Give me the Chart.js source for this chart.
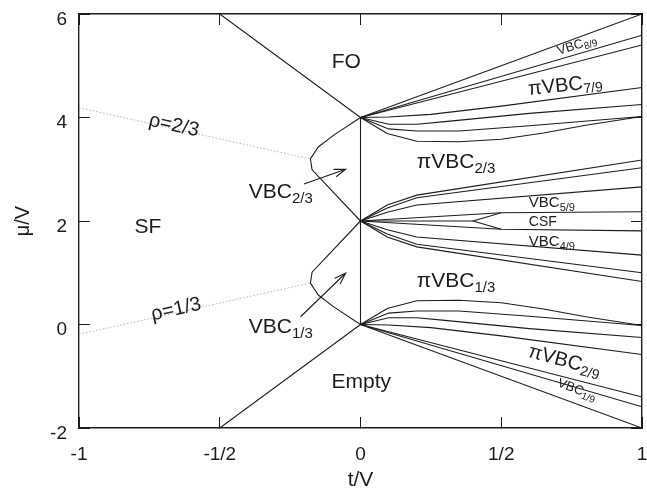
<!DOCTYPE html>
<html>
<head>
<meta charset="utf-8">
<script src="https://cdn.jsdelivr.net/npm/chart.js@4.4.1/dist/chart.umd.min.js"></script>
<style>
  html, body { margin: 0; padding: 0; background: #fff; }
  #wrap { width: 647px; height: 491px; }
</style>
</head>
<body>
<div id="wrap"><canvas id="c" width="647" height="491"></canvas></div>
<script>
// axis ticks
const xTicks = [-1, -0.5, 0, 0.5, 1];
const xTickLabels = ['-1', '-1/2', '0', '1/2', '1'];
const yTicks = [-2, 0, 2, 4, 6];
const tRange = [-1, 1];
const muRange = [-2, 6];

// boundaries on the t < 0 side, points are [t/V, mu/V]
const foBoundary = [[-0.5, 6], [0, 4]];
const emptyBoundary = [[-0.5, -2], [0, 0]];
const classicalLine = [[0, 0], [0, 4]];
const lobeTwoThirds = [[0, 4], [-0.095, 3.66], [-0.15, 3.43], [-0.178, 3.2], [-0.172, 2.99], [0, 2]];
const lobeOneThird = [[0, 2], [-0.172, 1.01], [-0.178, 0.8], [-0.15, 0.57], [-0.095, 0.34], [0, 0]];
const densityTwoThirds = [[-1, 4.19], [-0.18, 3.2]];
const densityOneThird = [[-1, -0.19], [-0.18, 0.8]];

// boundaries fanning out of (0, 4)
const fanTop1 = [[0, 4], [1, 6]];
const fanTop2 = [[0, 4], [1, 5.59]];
const fanTop3 = [[0, 4], [1, 5.40]];
const fanTop4 = [[0, 4], [0.1, 4.01], [0.25, 4.06], [0.5, 4.22], [1, 4.58]];
const fanTop5 = [[0, 4], [0.1, 3.87], [0.2, 3.87], [0.3, 3.92], [0.6, 4.08], [1, 4.25]];
const fanTop6 = [[0, 4], [0.1, 3.78], [0.2, 3.74], [0.35, 3.74], [0.6, 3.84], [1, 4.02]];
const fanTop7 = [[0, 4], [0.095, 3.69], [0.2, 3.54], [0.35, 3.53], [0.5, 3.58], [0.65, 3.7], [0.8, 3.85], [1, 4.02]];

// boundaries fanning out of (0, 2)
const fanMid1 = [[0, 2], [0.095, 2.31], [0.2, 2.5], [1, 3.18]];
const fanMid2 = [[0, 2], [0.095, 2.25], [0.2, 2.45], [1, 3.03]];
const fanMid3 = [[0, 2], [0.095, 2.17], [0.2, 2.31], [1, 2.66]];
const fanMid4 = [[0, 2], [0.5, 2.16], [1, 2.18]];
const fanMid5 = [[0, 2], [0.4, 2.0]];
const csfWedge = [[0.5, 2.16], [0.4, 2.0], [0.5, 1.84]];
const fanMid6 = [[0, 2], [0.5, 1.84], [1, 1.81]];
const fanMid7 = [[0, 2], [0.095, 1.83], [0.2, 1.69], [1, 1.34]];
const fanMid8 = [[0, 2], [0.095, 1.75], [0.2, 1.55], [1, 1.0]];
const fanMid9 = [[0, 2], [0.095, 1.69], [0.2, 1.5], [1, 0.83]];

// boundaries fanning out of (0, 0)
const fanLow1 = [[0, 0], [1, -2]];
const fanLow2 = [[0, 0], [1, -1.59]];
const fanLow3 = [[0, 0], [1, -1.40]];
const fanLow4 = [[0, 0], [0.1, -0.01], [0.25, -0.06], [0.5, -0.22], [1, -0.58]];
const fanLow5 = [[0, 0], [0.1, 0.13], [0.2, 0.13], [0.3, 0.08], [0.6, -0.08], [1, -0.25]];
const fanLow6 = [[0, 0], [0.1, 0.22], [0.2, 0.26], [0.35, 0.26], [0.6, 0.16], [1, -0.02]];
const fanLow7 = [[0, 0], [0.095, 0.31], [0.2, 0.46], [0.35, 0.47], [0.5, 0.42], [0.65, 0.3], [0.8, 0.15], [1, -0.02]];

// arrows pointing into the VBC lobes: [tail, head]
const arrowTwoThirds = [[-0.201, 2.715], [-0.053, 3.0]];
const arrowOneThird = [[-0.213, 0.15], [-0.053, 0.99]];

const FONT = '"Liberation Sans", Arial, Helvetica, sans-serif';
const INK = '#1c1c1c';
const TICK_IN = -11;   // negative tick length puts the marks inside the frame

// phase names: anchor in data units, text pieces [text, px size, baseline shift]
const phaseLabels = [
  { at: [-0.0504, 4.957], align: 'center', parts: [['FO', 21, 0]] },
  { at: [-0.7556, 1.768], align: 'center', parts: [['SF', 21, 0]] },
  { at: [0.003, -1.227], align: 'center', parts: [['Empty', 21, 0]] },
  { at: [-0.3968, 2.444], parts: [['VBC', 21, 0], ['2/3', 15, 5]] },
  { at: [-0.3968, -0.164], parts: [['VBC', 21, 0], ['1/3', 15, 5]] },
  { at: [-0.6615, 3.874], align: 'center', middle: true, rot: 12.4, parts: [['ρ=2/3', 20, 0]] },
  { at: [-0.6561, 0.319], align: 'center', middle: true, rot: -12.7, parts: [['ρ=1/3', 20, 0]] },
  { at: [0.2, 3.018], parts: [['πVBC', 21, 0], ['2/3', 15, 5]] },
  { at: [0.2, 0.730], parts: [['πVBC', 21, 0], ['1/3', 15, 5]] },
  { at: [0.598, 2.276], parts: [['VBC', 15, 0], ['5/9', 11, 4]] },
  { at: [0.598, 1.903], parts: [['CSF', 14, 0]] },
  { at: [0.598, 1.523], parts: [['VBC', 15, 0], ['4/9', 11, 4]] },
  { at: [0.598, 4.435], rot: -6, parts: [['πVBC', 20, 0], ['7/9', 14, 4]] },
  { at: [0.7044, 5.208], rot: -18, parts: [['VBC', 13, 0], ['8/9', 10, 3]] },
  { at: [0.592, -0.622], rot: 15, parts: [['πVBC', 20, 0], ['2/9', 14, 4]] },
  { at: [0.697, -1.188], rot: 21, parts: [['VBC', 13, 0], ['1/9', 10, 3]] }
];

const solidCurves = [
  foBoundary, emptyBoundary, classicalLine, lobeTwoThirds, lobeOneThird,
  fanTop1, fanTop2, fanTop3, fanTop4, fanTop5, fanTop6, fanTop7,
  fanMid1, fanMid2, fanMid3, fanMid4, fanMid5, csfWedge, fanMid6, fanMid7, fanMid8, fanMid9,
  fanLow1, fanLow2, fanLow3, fanLow4, fanLow5, fanLow6, fanLow7,
  arrowTwoThirds, arrowOneThird
];
const dottedCurves = [densityTwoThirds, densityOneThird];

const datasets = [];
dottedCurves.forEach(d => datasets.push({
  data: d, showLine: true, pointRadius: 0, borderColor: '#b5b5b5',
  borderWidth: 1, borderDash: [1.5, 2], tension: 0
}));
solidCurves.forEach(d => datasets.push({
  data: d, showLine: true, pointRadius: 0, borderColor: INK,
  borderWidth: 1.1, tension: 0
}));

function drawArrowHeads(chart) {
  const ctx = chart.ctx;
  const sx = chart.scales.x, sy = chart.scales.y;
  ctx.save();
  ctx.setLineDash([]);
  ctx.strokeStyle = INK;
  ctx.lineWidth = 1.1;
  [arrowTwoThirds, arrowOneThird].forEach(([tail, head]) => {
    const x0 = sx.getPixelForValue(tail[0]), y0 = sy.getPixelForValue(tail[1]);
    const x1 = sx.getPixelForValue(head[0]), y1 = sy.getPixelForValue(head[1]);
    const ang = Math.atan2(y1 - y0, x1 - x0);
    const len = 12, spread = 0.33;
    ctx.beginPath();
    ctx.moveTo(x1 - len * Math.cos(ang - spread), y1 - len * Math.sin(ang - spread));
    ctx.lineTo(x1, y1);
    ctx.lineTo(x1 - len * Math.cos(ang + spread), y1 - len * Math.sin(ang + spread));
    ctx.stroke();
  });
  ctx.restore();
}

function drawPhaseNames(chart) {
  const ctx = chart.ctx;
  const sx = chart.scales.x, sy = chart.scales.y;
  phaseLabels.forEach(lab => {
    ctx.save();
    ctx.translate(sx.getPixelForValue(lab.at[0]), sy.getPixelForValue(lab.at[1]));
    if (lab.rot) ctx.rotate(lab.rot * Math.PI / 180);
    let total = 0;
    const widths = lab.parts.map(([t, s]) => {
      ctx.font = s + 'px ' + FONT;
      const w = ctx.measureText(t).width;
      total += w;
      return w;
    });
    let cx = lab.align === 'center' ? -total / 2 : 0;
    const base = lab.middle ? lab.parts[0][1] * 0.36 : 0;
    ctx.fillStyle = INK;
    ctx.textAlign = 'left';
    ctx.textBaseline = 'alphabetic';
    lab.parts.forEach(([t, s, dy], i) => {
      ctx.font = s + 'px ' + FONT;
      ctx.fillText(t, cx, base + dy);
      cx += widths[i];
    });
    ctx.restore();
  });
}

const overlayPlugin = {
  id: 'phaseDiagramOverlay',
  afterDraw(chart) {
    drawArrowHeads(chart);
    drawPhaseNames(chart);
  }
};

// every side of the box: solid border plus short inward tick marks
const frameGrid = { display: true, drawOnChartArea: false, drawTicks: true, tickLength: TICK_IN, color: INK, lineWidth: 1 };
const frameBorder = { display: true, color: INK, width: 1.4 };

new Chart(document.getElementById('c'), {
  type: 'scatter',
  data: { datasets },
  options: {
    responsive: false,
    animation: false,
    events: [],
    layout: { padding: { left: 0, right: 5, top: 14, bottom: 0 } },
    plugins: { legend: { display: false }, tooltip: { enabled: false } },
    scales: {
      x: {
        type: 'linear', position: 'bottom', min: tRange[0], max: tRange[1],
        afterBuildTicks: s => { s.ticks = xTicks.map(v => ({ value: v })); },
        afterFit: s => { s.height = 63; s.paddingLeft = 0; s.paddingRight = 0; },
        grid: frameGrid,
        border: frameBorder,
        ticks: {
          autoSkip: false, maxRotation: 0, padding: 15 - TICK_IN, color: INK,
          font: { family: FONT, size: 19 },
          callback: v => xTickLabels[xTicks.indexOf(v)]
        },
        title: {
          display: true, text: 't/V', color: INK,
          font: { family: FONT, size: 21, lineHeight: 1 },
          padding: { top: 0, bottom: 0 }
        }
      },
      xTop: {
        type: 'linear', position: 'top', min: tRange[0], max: tRange[1],
        afterBuildTicks: s => { s.ticks = xTicks.map(v => ({ value: v })); },
        afterFit: s => { s.height = 0; s.paddingLeft = 0; s.paddingRight = 0; },
        grid: frameGrid,
        border: frameBorder,
        ticks: { display: false }
      },
      y: {
        type: 'linear', position: 'left', min: muRange[0], max: muRange[1],
        afterBuildTicks: s => { s.ticks = yTicks.map(v => ({ value: v })); },
        afterFit: s => { s.width = 79; s.paddingTop = 0; s.paddingBottom = 0; },
        grid: frameGrid,
        border: frameBorder,
        ticks: {
          autoSkip: false, padding: 12 - TICK_IN, labelOffset: 5.5, color: INK,
          font: { family: FONT, size: 19 },
          callback: v => String(v)
        },
        title: {
          display: true, text: 'μ/V', color: INK,
          font: { family: FONT, size: 20, lineHeight: 1 },
          padding: { top: 13, bottom: 0 }
        }
      },
      yRight: {
        type: 'linear', position: 'right', min: muRange[0], max: muRange[1],
        afterBuildTicks: s => { s.ticks = yTicks.map(v => ({ value: v })); },
        afterFit: s => { s.width = 0; s.paddingTop = 0; s.paddingBottom = 0; },
        grid: frameGrid,
        border: frameBorder,
        ticks: { display: false }
      }
    }
  },
  plugins: [overlayPlugin]
});
</script>
</body>
</html>
